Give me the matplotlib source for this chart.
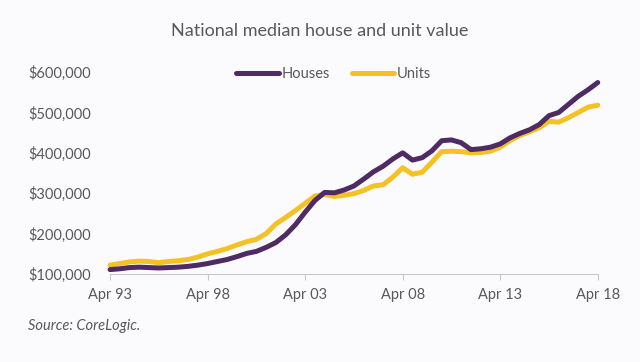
import matplotlib
matplotlib.use('Agg')
import matplotlib.pyplot as plt
from matplotlib.ticker import FuncFormatter

# years since Apr 93, half-year steps
years = [i * 0.5 for i in range(51)]
houses = [111, 113, 116, 117, 116, 115, 116, 117, 119, 122,
          126, 131, 136, 143, 151, 156, 166, 178, 197, 222,
          253, 282, 302, 301, 308, 318, 335, 353, 367, 385,
          400, 382, 388, 405, 430, 432, 425, 408, 410, 414,
          422, 437, 448, 457, 470, 492, 500, 520, 540, 556, 574]
units = [122, 126, 130, 132, 131, 128, 131, 133, 136, 142,
         150, 156, 163, 172, 180, 186, 200, 224, 240, 257,
         275, 293, 297, 292, 295, 299, 307, 318, 321, 340,
         363, 347, 352, 377, 403, 404, 403, 400, 401, 404,
         414, 430, 443, 452, 462, 478, 476, 487, 500, 513, 518]
tick_pos = [0, 5, 10, 15, 20, 25]
tick_labels = ['Apr 93', 'Apr 98', 'Apr 03', 'Apr 08', 'Apr 13', 'Apr 18']

PURPLE = '#4f2b63'
YELLOW = '#f4c224'
GREY = '#595959'
BG = '#fbfbfd'

plt.rcParams['font.family'] = ['Lato', 'DejaVu Sans']

fig = plt.figure(figsize=(6.4, 3.62), dpi=100, facecolor=BG)
ax = fig.add_axes([0.172, 0.243, 0.762, 0.558], facecolor=BG)

ax.plot(years, [v * 1000 for v in houses], color=PURPLE, lw=3.6,
        solid_capstyle='round', label='Houses', clip_on=False, zorder=3)
ax.plot(years, [v * 1000 for v in units], color=YELLOW, lw=3.6,
        solid_capstyle='round', label='Units', clip_on=False, zorder=2)

ax.set_xlim(0, 25)
ax.set_ylim(100000, 600000)
ax.set_yticks(range(100000, 600001, 100000))
ax.yaxis.set_major_formatter(FuncFormatter(lambda v, p: f'${v:,.0f}'))
ax.set_xticks(tick_pos)
ax.set_xticklabels(tick_labels)

for s in ['top', 'right', 'left']:
    ax.spines[s].set_visible(False)
ax.spines['bottom'].set_color('#c8c8cc')
ax.tick_params(axis='y', length=0, pad=14, labelsize=10.5, labelcolor=GREY)
ax.tick_params(axis='x', length=4, color='#c8c8cc', pad=6, labelsize=10.5,
               labelcolor=GREY)

leg = ax.legend(loc='upper center', bbox_to_anchor=(0.459, 1.09), ncol=2,
                frameon=False, fontsize=10.5, handlelength=2.9,
                handletextpad=0.2, columnspacing=1.5)
for t in leg.get_texts():
    t.set_color(GREY)

fig.text(0.5, 0.915, 'National median house and unit value', ha='center',
         va='center', fontsize=13, color=GREY)
fig.text(0.044, 0.1, 'Source: CoreLogic.', ha='left', va='center',
         fontsize=10.5, style='italic', color=GREY)

fig.savefig('out.png', dpi=100, facecolor=BG)
